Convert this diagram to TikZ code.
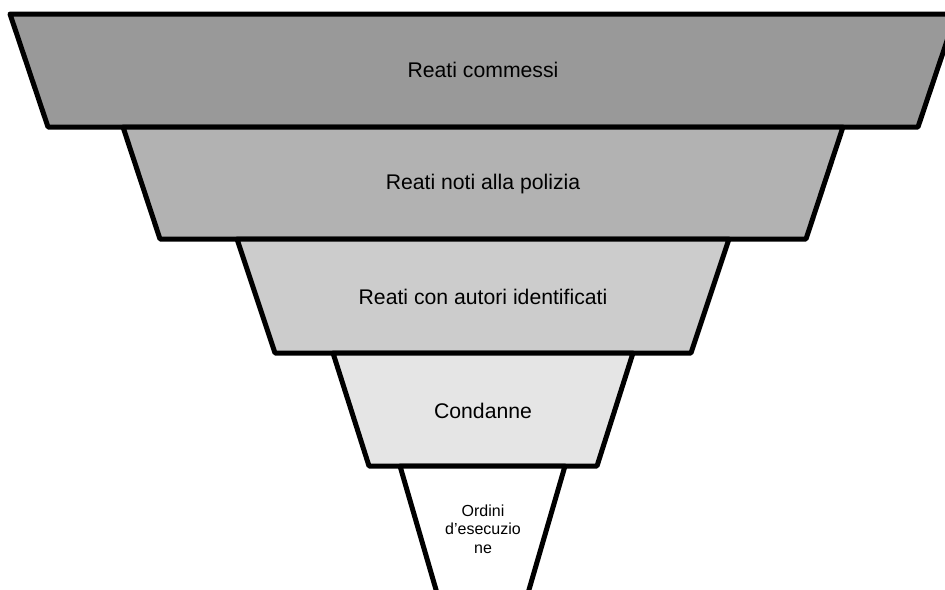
\documentclass[tikz,border=0pt]{standalone}
\usepackage{fontspec}
\setmainfont{Liberation Sans}

\tikzset{
  layer/.style={draw=black, line width=3.75pt, line join=round},
  lbl/.style={font=\fontsize{15.9}{18}\selectfont, align=center, inner sep=0pt},
  smalllbl/.style={font=\fontsize{12}{13.9}\selectfont, align=center, inner sep=0pt}
}

\begin{document}
\begin{tikzpicture}[x=0.75pt,y=-0.75pt]
\clip (0,0) rectangle (945,589);
% funnel, top to bottom
\filldraw[layer, fill=gray!80] (10,14) -- (956,14) -- (918,127) -- (48,127) -- cycle;
\filldraw[layer, fill=gray!60] (123,127) -- (843,127) -- (806,239) -- (160,239) -- cycle;
\filldraw[layer, fill=gray!40] (237,239) -- (729,239) -- (691,353) -- (275,353) -- cycle;
\filldraw[layer, fill=gray!20] (333,353) -- (633,353) -- (597,466) -- (369,466) -- cycle;
\filldraw[layer, fill=white] (400,466) -- (565,466) -- (526,600) -- (439,600) -- cycle;
% labels
\node[lbl] (commessi) at (483,70) {Reati commessi};
\node[lbl] (noti) at (483,184) {Reati noti alla polizia};
\node[lbl] (autori) at (483,297) {Reati con autori identificati};
\node[lbl] (condanne) at (483,411) {Condanne};
\node[smalllbl] (ordini) at (483,529) {Ordini\\d’esecuzio\\ne};
\end{tikzpicture}
\end{document}
